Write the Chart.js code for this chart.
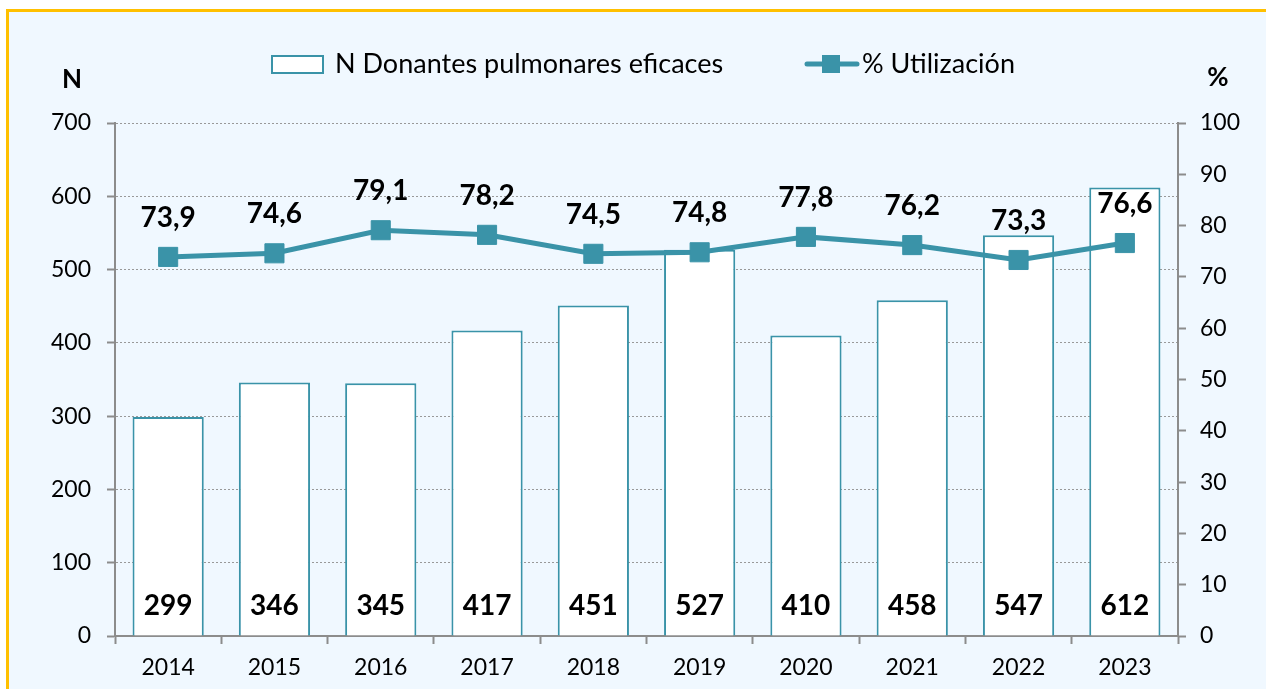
<!DOCTYPE html>
<html>
<head>
<meta charset="utf-8">
<script src="https://cdn.jsdelivr.net/npm/chart.js@4.4.0/dist/chart.umd.min.js"></script>
<style>
  html, body { margin: 0; padding: 0; background: #fff; overflow: hidden; }
  #frame {
    position: absolute; left: 6px; top: 9px; width: 1300px; height: 720px;
    border-left: 3px solid #FFC000; border-top: 3px solid #FFC000;
    background: #F0F8FF;
  }
  #chart { position: absolute; left: 0; top: 0; }
</style>
</head>
<body>
<div id="frame"></div>
<canvas id="chart" width="1266" height="689"></canvas>
<script>
const years = ['2014', '2015', '2016', '2017', '2018', '2019', '2020', '2021', '2022', '2023'];
const donantes = [299, 346, 345, 417, 451, 527, 410, 458, 547, 612];
const utilizacion = [73.9, 74.6, 79.1, 78.2, 74.5, 74.8, 77.8, 76.2, 73.3, 76.6];
const leftTicks = [0, 100, 200, 300, 400, 500, 600, 700];
const rightTicks = [0, 10, 20, 30, 40, 50, 60, 70, 80, 90, 100];

const TEAL = '#3A93A8';
const AXIS = '#8C8C8C';
const FONT = 'Lato, "Open Sans", sans-serif';

function fmt(v) {
    return v.toFixed(1).replace('.', ',');
}

const labelsPlugin = {
    id: 'labels',
    afterDatasetsDraw(chart) {
        const ctx = chart.ctx;
        const yScale = chart.scales.y;
        ctx.save();
        ctx.fillStyle = '#000';
        ctx.font = 'bold 28px ' + FONT;
        ctx.textAlign = 'center';
        ctx.textBaseline = 'middle';
        chart.getDatasetMeta(0).data.forEach((bar, i) => {
            ctx.fillText(donantes[i], bar.x, yScale.getPixelForValue(0) - 30);
        });
        chart.getDatasetMeta(1).data.forEach((pt, i) => {
            ctx.fillText(fmt(utilizacion[i]), pt.x, pt.y - 39);
        });
        ctx.restore();
    }
};

const decorPlugin = {
    id: 'decor',
    afterDraw(chart) {
        const ctx = chart.ctx;
        ctx.save();
        ctx.fillStyle = '#000';
        ctx.textBaseline = 'middle';
        ctx.textAlign = 'center';
        ctx.font = 'bold 26px ' + FONT;
        ctx.fillText('N', 72, 80);
        ctx.fillText('%', 1218, 78);

        // legend
        ctx.textAlign = 'left';
        ctx.font = '27px ' + FONT;
        ctx.fillStyle = '#fff';
        ctx.fillRect(272, 56, 51, 17);
        ctx.strokeStyle = TEAL;
        ctx.lineWidth = 2;
        ctx.strokeRect(272, 56, 51, 17);
        ctx.fillStyle = '#000';
        ctx.fillText('N Donantes pulmonares eficaces', 335, 64);

        ctx.strokeStyle = TEAL;
        ctx.lineWidth = 5;
        ctx.lineCap = 'round';
        ctx.beginPath();
        ctx.moveTo(807, 64);
        ctx.lineTo(857, 64);
        ctx.stroke();
        ctx.fillStyle = TEAL;
        ctx.fillRect(822, 55, 18, 18);
        ctx.fillStyle = '#000';
        ctx.fillText('% Utilización', 862, 64);
        ctx.restore();
    }
};

new Chart(document.getElementById('chart'), {
    data: {
        labels: years,
        datasets: [
            {
                type: 'bar',
                label: 'N Donantes pulmonares eficaces',
                data: donantes,
                backgroundColor: '#fff',
                borderColor: TEAL,
                borderWidth: 2,
                barPercentage: 0.67,
                categoryPercentage: 1,
                yAxisID: 'y',
                order: 2
            },
            {
                type: 'line',
                label: '% Utilización',
                data: utilizacion,
                borderColor: TEAL,
                backgroundColor: TEAL,
                borderWidth: 5,
                pointStyle: 'rect',
                pointRadius: 13.5,
                pointBorderWidth: 1,
                pointBackgroundColor: TEAL,
                pointBorderColor: TEAL,
                yAxisID: 'y1',
                order: 1
            }
        ]
    },
    options: {
        responsive: false,
        animation: false,
        layout: { padding: { top: 123, left: 0, right: 0, bottom: 0 } },
        plugins: { legend: { display: false }, tooltip: { enabled: false } },
        scales: {
            x: {
                offset: true,
                grid: { offset: true, drawOnChartArea: false, tickLength: 8, tickColor: AXIS, tickWidth: 2 },
                border: { color: AXIS, width: 2 },
                ticks: { color: '#000', font: { family: FONT, size: 23 }, padding: 10 },
                afterFit(s) { s.height = 53; }
            },
            y: {
                position: 'left',
                min: 0, max: 700,
                afterBuildTicks(s) { s.ticks = leftTicks.map(v => ({ value: v })); },
                grid: { color: '#999', lineWidth: 1, tickLength: 8, tickColor: AXIS, tickWidth: 2 },
                border: { color: AXIS, width: 2, dash: [2, 2] },
                ticks: { color: '#000', font: { family: FONT, size: 23 }, padding: 16 },
                afterFit(s) { s.width = 115; }
            },
            y1: {
                position: 'right',
                min: 0, max: 100,
                afterBuildTicks(s) { s.ticks = rightTicks.map(v => ({ value: v })); },
                grid: { drawOnChartArea: false, tickLength: 8, tickColor: AXIS, tickWidth: 2 },
                border: { color: AXIS, width: 2 },
                ticks: { color: '#000', font: { family: FONT, size: 23 }, padding: 14 },
                afterFit(s) { s.width = 88; }
            }
        }
    },
    plugins: [labelsPlugin, decorPlugin]
});
</script>
</body>
</html>
